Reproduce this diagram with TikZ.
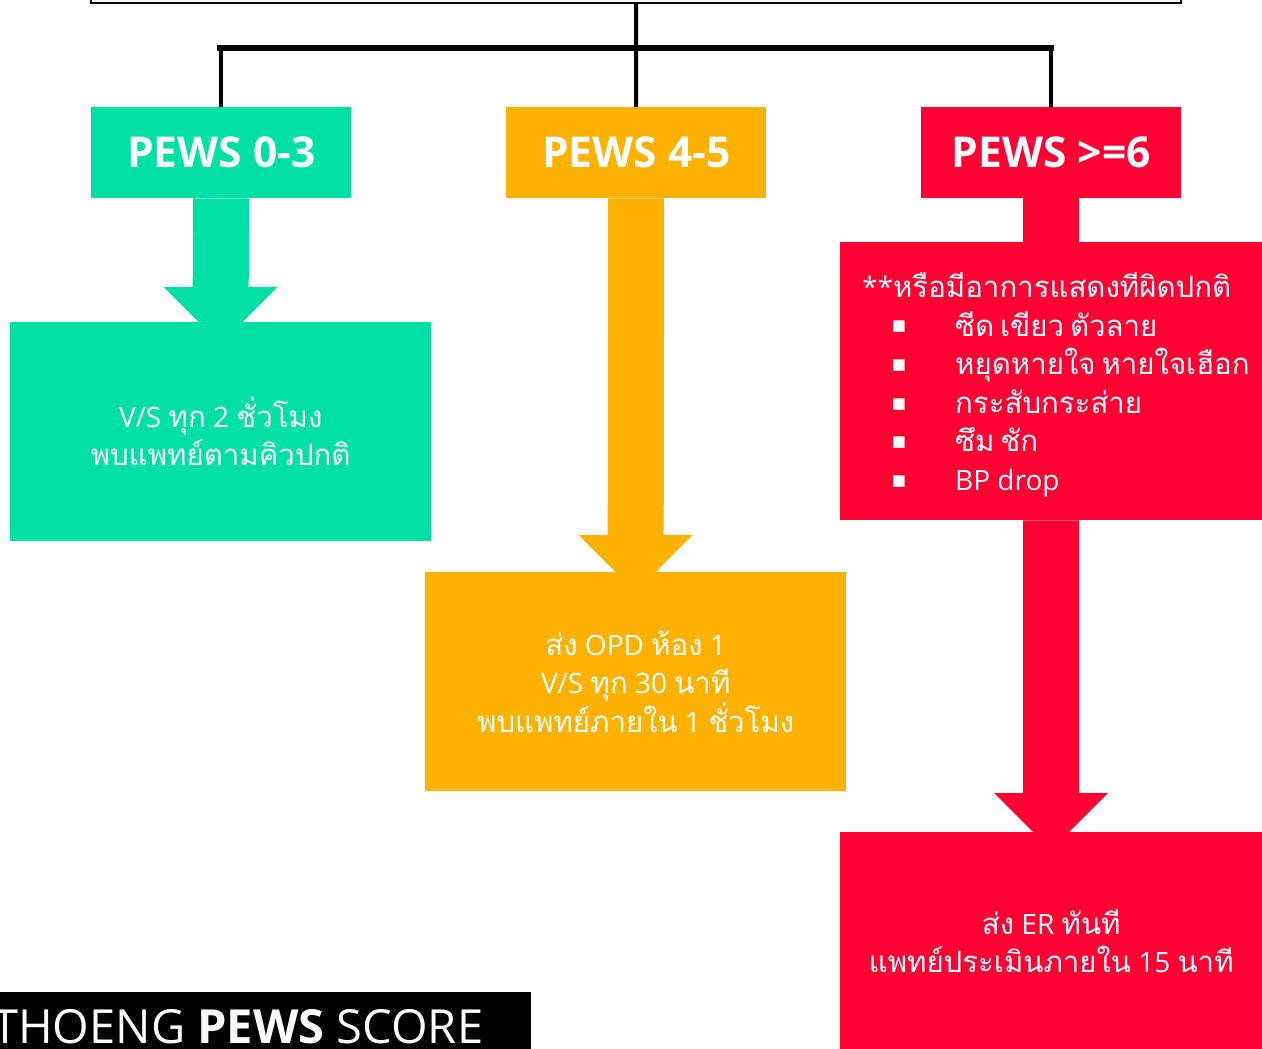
\documentclass[tikz,border=0pt]{standalone}
\usepackage{fontspec}
\setmainfont{Open Sans}
\newfontfamily\thaifont[Script=Thai,Scale=1.05,WordSpace=0.6]{Loma}
\newfontfamily\symfont{DejaVu Sans}
\usetikzlibrary{calc}
\definecolor{pgreen}{RGB}{0,224,164}
\definecolor{porange}{RGB}{253,178,0}
\definecolor{pred}{RGB}{255,0,51}
\newcommand{\tx}[1]{{\thaifont #1}}
\tikzset{
  hdr/.style={fill=#1, text=white, minimum width=260pt, minimum height=91pt,
    inner sep=0pt, anchor=north west, font=\fontsize{42.5}{48}\selectfont\bfseries},
  infobox/.style={fill=#1, text=white, inner sep=0pt, anchor=north west, align=center,
    font=\fontsize{28}{38.5}\selectfont},
  itemtext/.style={text=white, inner sep=0pt, anchor=base west, font=\fontsize{28}{38.5}\selectfont},
  bullet/.style={text=white, inner sep=0pt, anchor=center, font=\symfont\fontsize{15}{15}\selectfont},
  conn/.style={draw=black, line width=4pt},
}
\newcommand{\blockarrow}[4]{% colour, from, to, head start above target
  \fill[#1] ($(#2.south)+(-28,0)$) -- ($(#3.north)+(-28,-#4)$) -- ($(#3.north)+(-57,-#4)$)
    -- ($(#3.north)+(0,57-#4)$) -- ($(#3.north)+(57,-#4)$) -- ($(#3.north)+(28,-#4)$)
    -- ($(#2.south)+(28,0)$) -- cycle;}
\begin{document}
\begin{tikzpicture}[x=1pt,y=-1pt]
\useasboundingbox (0,0) rectangle (1262,1049);
\clip (0,0) rectangle (1262,1049);

% top box
\node[draw=black, line width=2pt, minimum width=1090pt, minimum height=60pt, inner sep=0pt, anchor=south] (top) at (636,4) {};

% headers
\node[hdr=pgreen] (h1) at (91,107) {PEWS 0-3};
\node[hdr=porange] (h2) at (506,107) {PEWS 4-5};
\node[hdr=pred] (h3) at (921,107) {PEWS >=6};

% bus connectors
\coordinate (busL) at (217,48);
\coordinate (busR) at (1054,48);
\draw[conn] (top.south) -- (h2.north);
\draw[draw=black, line width=6pt] (busL) -- (busR);
\draw[conn] (h1.north) -- (h1.north |- busL);
\draw[conn] (h3.north) -- (h3.north |- busR);

% boxes
\node[infobox=pgreen, minimum width=421pt, minimum height=219pt] (g1) at (10,322)
  {V/S \tx{ทุก} 2 \tx{ชั่วโมง}\\\tx{พบแพทย์ตามคิวปกติ}};
\node[infobox=porange, minimum width=421pt, minimum height=219pt] (o1) at (425,572)
  {\tx{ส่ง} OPD \tx{ห้อง} 1\\V/S \tx{ทุก} 30 \tx{นาที}\\\tx{พบแพทย์ภายใน} 1 \tx{ชั่วโมง}};
\node[infobox=pred, minimum width=422pt, minimum height=278pt] (r1) at (840,242) {};
\node[infobox=pred, minimum width=422pt, minimum height=218pt] (r2) at (840,832)
  {\tx{ส่ง} ER \tx{ทันที}\\\tx{แพทย์ประเมินภายใน} 15 \tx{นาที}};

% arrows
\blockarrow{pgreen}{h1}{g1}{35}
\blockarrow{porange}{h2}{o1}{37}
\fill[pred] ($(h3.south)+(-28,0)$) rectangle ($(r1.north)+(28,0)$);
\blockarrow{pred}{r1}{r2}{39}

% red list
\node[itemtext] (rh) at (862,297) {**\tx{หรือมีอาการแสดงทีผิดปกติ}};
\node[bullet] (b1) at (899,327) {■};
\node[bullet] (b2) at (899,366) {■};
\node[bullet] (b3) at (899,405) {■};
\node[bullet] (b4) at (899,443) {■};
\node[bullet] (b5) at (899,482) {■};
\node[itemtext] (i1) at (955,336) {\tx{ซีด เขียว ตัวลาย}};
\node[itemtext] (i2) at (955,374.5) {\tx{หยุดหายใจ หายใจเฮือก}};
\node[itemtext] (i3) at (955,413) {\tx{กระสับกระส่าย}};
\node[itemtext] (i4) at (955,451.5) {\tx{ซึม ชัก}};
\node[itemtext] (i5) at (955,490) {BP drop};

% bottom label
\node[fill=black, minimum width=531pt, minimum height=70pt, inner sep=0pt, anchor=north west] (lbl) at (0,992) {};
\node[text=white, inner sep=0pt, anchor=base west, font=\fontsize{47}{50}\selectfont] (lbltext) at (-8,1043)
  {THOENG \textbf{PEWS} SCORE};
\end{tikzpicture}
\end{document}
